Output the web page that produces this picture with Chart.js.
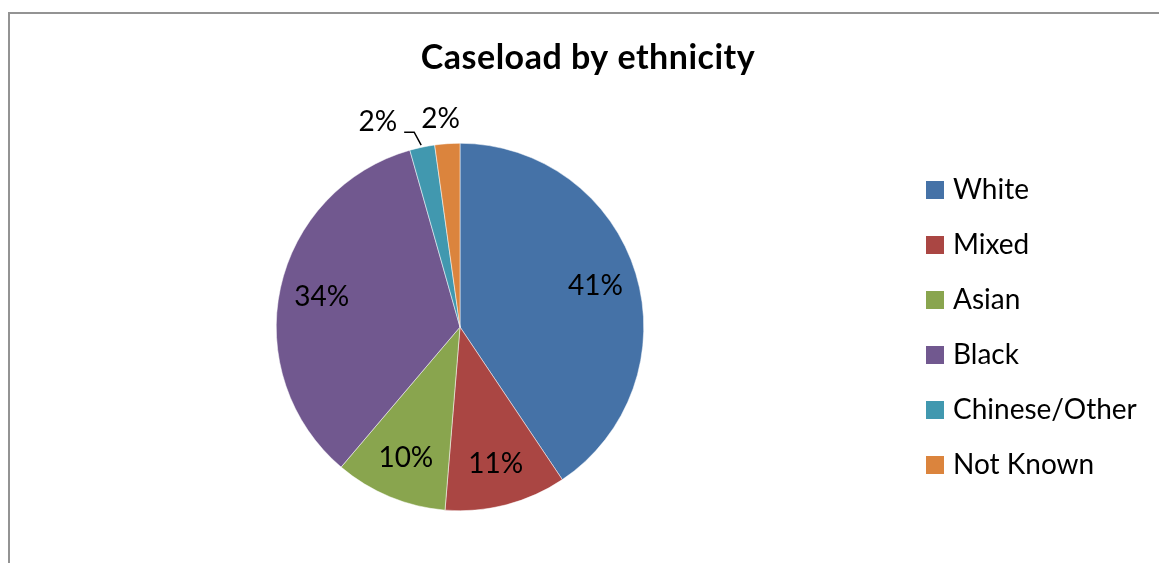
<!DOCTYPE html>
<html>
<head>
<meta charset="utf-8">
<script src="https://cdn.jsdelivr.net/npm/chart.js@4/dist/chart.umd.min.js"></script>
<style>
  html, body { margin: 0; padding: 0; background: #fff; overflow: hidden; }
  #wrap { position: relative; width: 1159px; height: 563px; }
  #frame { position: absolute; left: 8px; top: 12px; width: 1200px; height: 600px;
           border-top: 2px solid #939393; border-left: 2px solid #939393; }
  canvas { position: absolute; left: 0; top: 0; }
</style>
</head>
<body>
<div id="wrap">
  <div id="frame"></div>
  <canvas id="grafica" width="1159" height="563"></canvas>
</div>
<script>
const titulo = 'Caseload by ethnicity'
const etiquetas = ['White', 'Mixed', 'Asian', 'Black', 'Chinese/Other', 'Not Known']
const valores = [40.6, 10.7, 9.9, 34.4, 2.2, 2.2]
const colores = ['#4572A7', '#AA4643', '#89A54E', '#71588F', '#4198AF', '#DB843D']

const fuente = 'Lato, "Open Sans", sans-serif'

// title, legend and percentage labels, drawn the way the original office chart had them
const extras = {
    id: 'extras',
    afterDatasetsDraw(chart) {
        const ctx = chart.ctx
        const total = valores.reduce((a, b) => a + b, 0)
        const arcs = chart.getDatasetMeta(0).data

        ctx.save()
        ctx.fillStyle = '#000'
        ctx.textAlign = 'center'
        ctx.textBaseline = 'middle'

        // title
        ctx.font = 'bold 34px ' + fuente
        if ('letterSpacing' in ctx) ctx.letterSpacing = '0.5px'
        ctx.fillText(titulo, 588, 58)
        if ('letterSpacing' in ctx) ctx.letterSpacing = '0px'

        // slice labels
        ctx.font = '28px ' + fuente
        arcs.forEach((arc, i) => {
            const p = arc.getProps(['x', 'y', 'startAngle', 'endAngle', 'outerRadius'], true)
            const mid = (p.startAngle + p.endAngle) / 2
            const dx = Math.cos(mid)
            const dy = Math.sin(mid)
            const texto = Math.round(valores[i] / total * 100) + '%'

            if (valores[i] >= 5) {
                const r = p.outerRadius * 0.77
                ctx.fillText(texto, p.x + dx * r, p.y + dy * r)
            } else if (i === arcs.length - 1) {
                const r = p.outerRadius + 25
                ctx.fillText(texto, p.x + dx * r - 5, p.y + dy * r)
            } else {
                // pushed left with a leader line
                const ex = p.x + dx * p.outerRadius
                const ey = p.y + dy * p.outerRadius
                const cx = ex - 8
                const cy = ey - 15
                const fin = cx - 10
                ctx.strokeStyle = '#000'
                ctx.lineWidth = 1.5
                ctx.beginPath()
                ctx.moveTo(ex - 1, ey - 2)
                ctx.lineTo(cx, cy)
                ctx.lineTo(fin, cy)
                ctx.stroke()
                const w = ctx.measureText(texto).width
                ctx.fillText(texto, fin - 7 - w / 2, cy - 10)
            }
        })

        // legend
        ctx.textAlign = 'left'
        ctx.font = '28px ' + fuente
        etiquetas.forEach((et, i) => {
            const y = 190 + i * 55
            ctx.fillStyle = colores[i]
            ctx.fillRect(926, y - 9, 18, 18)
            ctx.fillStyle = '#000'
            ctx.fillText(et, 953, y)
        })
        ctx.restore()
    }
}

const dataConfig = {
    labels: etiquetas,
    datasets: [{
        data: valores,
        backgroundColor: colores,
        borderColor: '#ffffff',
        borderWidth: 0.5
    }]
}

const config = {
    type: 'pie',
    data: dataConfig,
    options: {
        responsive: false,
        animation: false,
        events: [],
        layout: {
            padding: { left: 276, right: 515, top: 143, bottom: 52 }
        },
        plugins: {
            legend: { display: false },
            title: { display: false },
            tooltip: { enabled: false }
        }
    },
    plugins: [extras]
}

window.graficaUno = new Chart(document.getElementById('grafica'), config)
</script>
</body>
</html>
